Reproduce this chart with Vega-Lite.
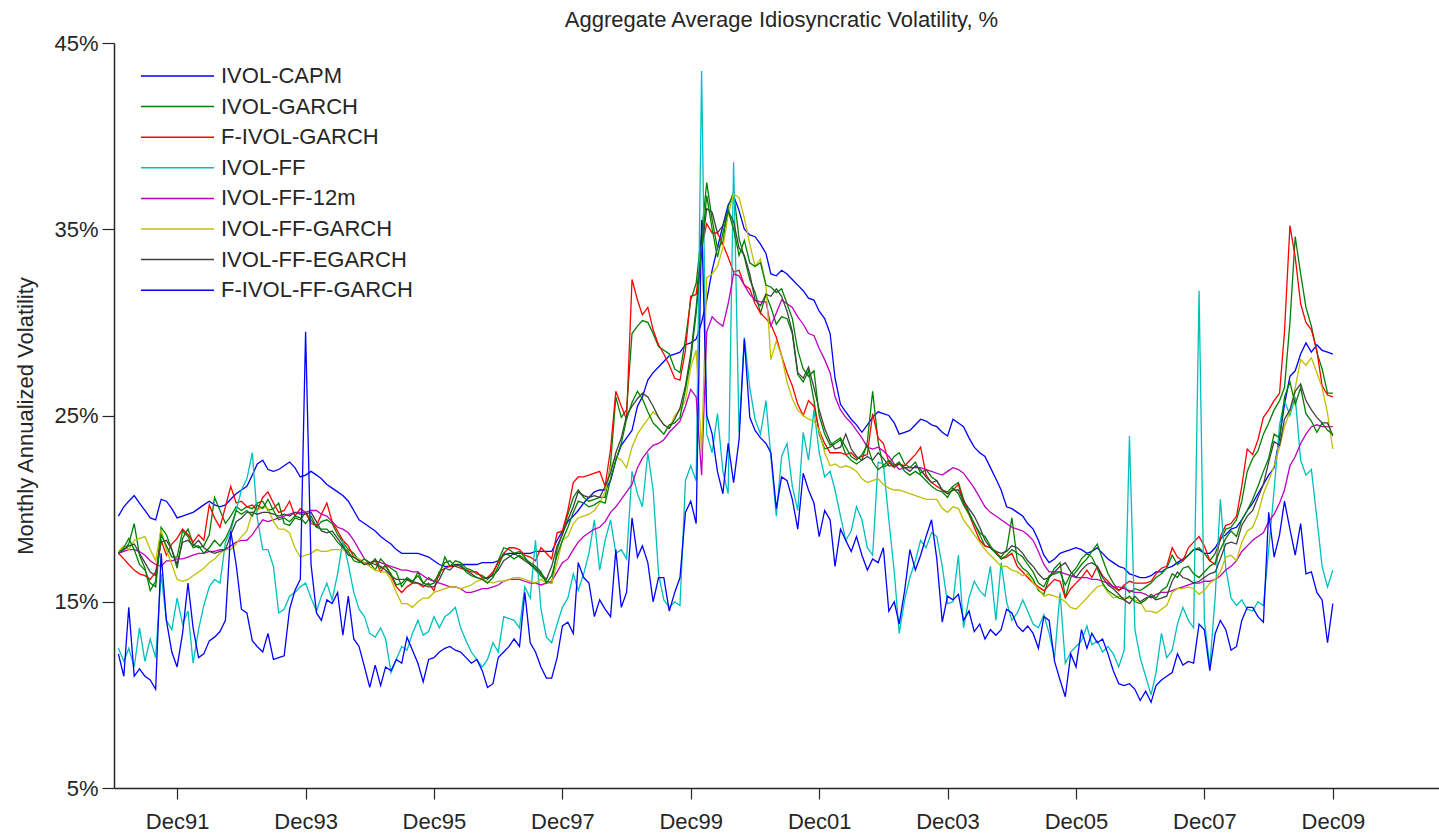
{
"$schema": "https://vega.github.io/schema/vega-lite/v6.json",
"width": 1325, "height": 745,
"autosize": {"type": "none"},
"padding": {"left": 114, "top": 43, "right": 0, "bottom": 48},
"background": "white",
"config": {"view": {"stroke": null}, "font": "Liberation Sans"},
"title": {"text": "Aggregate Average Idiosyncratic Volatility, %", "fontSize": 22, "fontWeight": "normal", "color": "#262626", "offset": 0, "anchor": "middle", "dx": 5},
"datasets": {"names": [
{"k":"a","s":"IVOL-CAPM"},{"k":"b","s":"IVOL-GARCH"},{"k":"c","s":"F-IVOL-GARCH"},{"k":"d","s":"IVOL-FF"},{"k":"e","s":"IVOL-FF-12m"},{"k":"f","s":"IVOL-FF-GARCH"},{"k":"g","s":"IVOL-FF-EGARCH"},{"k":"h","s":"F-IVOL-FF-GARCH"},{"k":"i","s":"Series 9"}]},
"data": {"values": [
{"t":"1991-01","a":19.6,"b":17.6,"c":17.6,"d":12.5,"e":17.6,"f":17.7,"g":17.6,"h":12.2,"i":17.6},
{"t":"1991-02","a":20.1,"b":17.8,"c":17.3,"d":11.8,"e":17.7,"f":18.0,"g":17.8,"h":11.0,"i":17.9},
{"t":"1991-03","a":20.4,"b":18.1,"c":17.0,"d":12.5,"e":17.8,"f":17.8,"g":18.0,"h":14.7,"i":18.4},
{"t":"1991-04","a":20.7,"b":19.2,"c":16.7,"d":11.5,"e":17.8,"f":18.3,"g":18.1,"h":11.0,"i":17.8},
{"t":"1991-05","a":20.3,"b":17.5,"c":16.5,"d":13.6,"e":17.7,"f":18.4,"g":17.6,"h":11.4,"i":17.0},
{"t":"1991-06","a":19.9,"b":16.8,"c":16.4,"d":11.8,"e":17.5,"f":18.5,"g":17.1,"h":11.0,"i":16.7},
{"t":"1991-07","a":19.5,"b":15.6,"c":16.2,"d":13.0,"e":17.2,"f":17.8,"g":16.6,"h":10.8,"i":16.0},
{"t":"1991-08","a":19.4,"b":16.1,"c":16.6,"d":12.0,"e":17.0,"f":17.2,"g":16.4,"h":10.3,"i":15.8},
{"t":"1991-09","a":20.5,"b":19.0,"c":18.3,"d":16.5,"e":16.9,"f":18.9,"g":18.2,"h":17.6,"i":18.6},
{"t":"1991-10","a":20.4,"b":18.6,"c":17.5,"d":14.0,"e":17.2,"f":17.8,"g":18.3,"h":14.0,"i":18.0},
{"t":"1991-11","a":20.0,"b":17.8,"c":18.1,"d":13.5,"e":17.2,"f":17.0,"g":17.8,"h":12.3,"i":17.4},
{"t":"1991-12","a":19.5,"b":16.8,"c":18.4,"d":15.2,"e":17.3,"f":16.2,"g":17.0,"h":11.5,"i":17.4},
{"t":"1992-01","a":19.6,"b":18.4,"c":18.9,"d":13.8,"e":17.3,"f":16.1,"g":18.2,"h":13.3,"i":18.8},
{"t":"1992-02","a":19.7,"b":18.9,"c":18.6,"d":14.5,"e":17.4,"f":16.2,"g":18.3,"h":16.0,"i":18.5},
{"t":"1992-03","a":19.8,"b":18.1,"c":18.2,"d":11.7,"e":17.5,"f":16.4,"g":18.0,"h":13.6,"i":17.9},
{"t":"1992-04","a":20.0,"b":17.9,"c":18.6,"d":13.5,"e":17.6,"f":16.6,"g":18.3,"h":12.0,"i":18.0},
{"t":"1992-05","a":20.2,"b":18.0,"c":18.3,"d":14.8,"e":17.6,"f":16.8,"g":17.9,"h":12.2,"i":17.6},
{"t":"1992-06","a":20.4,"b":18.6,"c":20.2,"d":15.8,"e":17.7,"f":17.1,"g":17.7,"h":12.9,"i":17.9},
{"t":"1992-07","a":20.2,"b":20.6,"c":19.5,"d":16.2,"e":17.7,"f":17.3,"g":17.6,"h":13.1,"i":18.3},
{"t":"1992-08","a":20.1,"b":19.9,"c":19.0,"d":16.0,"e":17.8,"f":17.6,"g":17.7,"h":13.4,"i":18.0},
{"t":"1992-09","a":20.2,"b":19.2,"c":20.1,"d":18.2,"e":17.8,"f":17.8,"g":17.8,"h":14.0,"i":18.4},
{"t":"1992-10","a":20.5,"b":19.6,"c":21.2,"d":18.8,"e":18.0,"f":17.8,"g":18.6,"h":18.8,"i":19.0},
{"t":"1992-11","a":20.8,"b":20.1,"c":20.3,"d":19.9,"e":18.2,"f":18.1,"g":19.3,"h":17.0,"i":19.9},
{"t":"1992-12","a":21.0,"b":19.9,"c":20.4,"d":21.0,"e":18.3,"f":18.5,"g":19.5,"h":14.6,"i":19.7},
{"t":"1993-01","a":21.2,"b":20.1,"c":20.1,"d":21.6,"e":18.3,"f":18.8,"g":19.8,"h":14.4,"i":19.9},
{"t":"1993-02","a":21.8,"b":20.0,"c":20.2,"d":23.0,"e":18.6,"f":19.8,"g":19.8,"h":12.9,"i":19.6},
{"t":"1993-03","a":22.4,"b":20.3,"c":19.9,"d":19.5,"e":19.0,"f":19.9,"g":19.7,"h":12.6,"i":20.2},
{"t":"1993-04","a":22.6,"b":20.4,"c":20.6,"d":17.8,"e":19.4,"f":20.1,"g":19.8,"h":12.3,"i":20.0},
{"t":"1993-05","a":22.1,"b":19.9,"c":20.9,"d":17.8,"e":19.3,"f":20.0,"g":19.8,"h":13.3,"i":20.5},
{"t":"1993-06","a":22.0,"b":20.0,"c":20.3,"d":16.9,"e":19.4,"f":19.3,"g":19.7,"h":11.9,"i":19.9},
{"t":"1993-07","a":22.1,"b":20.3,"c":19.8,"d":14.4,"e":19.5,"f":18.9,"g":19.6,"h":12.0,"i":19.4},
{"t":"1993-08","a":22.3,"b":19.2,"c":19.9,"d":14.6,"e":19.6,"f":18.9,"g":19.7,"h":12.1,"i":19.5},
{"t":"1993-09","a":22.5,"b":19.1,"c":20.4,"d":15.3,"e":19.7,"f":18.7,"g":19.6,"h":14.6,"i":19.3},
{"t":"1993-10","a":22.2,"b":19.5,"c":19.6,"d":15.5,"e":19.8,"f":17.9,"g":19.8,"h":15.6,"i":19.6},
{"t":"1993-11","a":21.7,"b":19.4,"c":20.0,"d":15.8,"e":19.8,"f":17.4,"g":19.7,"h":16.2,"i":19.5},
{"t":"1993-12","a":21.8,"b":19.8,"c":19.8,"d":16.0,"e":19.8,"f":17.5,"g":19.7,"h":29.5,"i":19.2},
{"t":"1994-01","a":22.0,"b":19.4,"c":19.2,"d":15.2,"e":19.9,"f":17.6,"g":19.8,"h":17.0,"i":19.6},
{"t":"1994-02","a":21.8,"b":19.0,"c":19.1,"d":14.5,"e":19.9,"f":17.8,"g":19.3,"h":14.4,"i":19.0},
{"t":"1994-03","a":21.6,"b":19.3,"c":19.7,"d":15.3,"e":19.7,"f":17.7,"g":18.8,"h":14.0,"i":18.9},
{"t":"1994-04","a":21.3,"b":19.4,"c":20.3,"d":16.0,"e":19.6,"f":17.7,"g":18.7,"h":15.1,"i":18.9},
{"t":"1994-05","a":21.1,"b":19.2,"c":19.3,"d":15.1,"e":19.3,"f":17.8,"g":18.8,"h":14.9,"i":18.6},
{"t":"1994-06","a":20.9,"b":18.6,"c":18.8,"d":16.5,"e":19.0,"f":17.8,"g":18.4,"h":15.5,"i":18.2},
{"t":"1994-07","a":20.7,"b":18.2,"c":18.3,"d":18.3,"e":18.9,"f":17.8,"g":18.0,"h":13.2,"i":17.9},
{"t":"1994-08","a":20.4,"b":17.8,"c":18.0,"d":17.0,"e":18.7,"f":17.6,"g":17.5,"h":15.3,"i":17.7},
{"t":"1994-09","a":19.9,"b":17.6,"c":17.4,"d":15.5,"e":18.3,"f":17.4,"g":17.4,"h":13.0,"i":17.2},
{"t":"1994-10","a":19.4,"b":17.2,"c":17.2,"d":14.6,"e":17.8,"f":17.3,"g":17.2,"h":12.6,"i":17.1},
{"t":"1994-11","a":19.2,"b":17.0,"c":17.1,"d":14.2,"e":17.3,"f":17.1,"g":17.0,"h":11.5,"i":17.3},
{"t":"1994-12","a":19.0,"b":17.1,"c":17.0,"d":13.3,"e":17.1,"f":16.9,"g":17.1,"h":10.4,"i":17.0},
{"t":"1995-01","a":18.8,"b":16.7,"c":17.2,"d":13.1,"e":17.2,"f":16.7,"g":17.0,"h":11.6,"i":17.3},
{"t":"1995-02","a":18.5,"b":17.3,"c":16.6,"d":13.6,"e":17.1,"f":16.6,"g":16.9,"h":10.5,"i":16.8},
{"t":"1995-03","a":18.3,"b":17.0,"c":17.0,"d":13.0,"e":17.0,"f":16.6,"g":16.7,"h":11.5,"i":16.9},
{"t":"1995-04","a":18.1,"b":16.8,"c":16.4,"d":11.2,"e":16.9,"f":16.2,"g":16.4,"h":11.3,"i":16.5},
{"t":"1995-05","a":17.8,"b":16.6,"c":15.8,"d":11.9,"e":16.8,"f":15.5,"g":16.2,"h":11.9,"i":15.9},
{"t":"1995-06","a":17.6,"b":15.8,"c":15.5,"d":12.6,"e":16.7,"f":14.9,"g":16.2,"h":11.7,"i":16.0},
{"t":"1995-07","a":17.6,"b":16.2,"c":15.8,"d":12.4,"e":16.7,"f":14.9,"g":16.2,"h":13.1,"i":16.3},
{"t":"1995-08","a":17.6,"b":16.0,"c":16.0,"d":13.3,"e":16.6,"f":14.7,"g":16.1,"h":12.4,"i":16.1},
{"t":"1995-09","a":17.6,"b":16.6,"c":16.0,"d":14.0,"e":16.6,"f":15.0,"g":16.0,"h":11.7,"i":16.4},
{"t":"1995-10","a":17.5,"b":16.0,"c":15.8,"d":13.2,"e":16.4,"f":15.2,"g":15.9,"h":10.7,"i":16.0},
{"t":"1995-11","a":17.4,"b":16.3,"c":16.0,"d":13.4,"e":16.2,"f":15.2,"g":15.8,"h":11.9,"i":15.9},
{"t":"1995-12","a":17.2,"b":16.1,"c":15.6,"d":14.2,"e":16.1,"f":15.5,"g":15.8,"h":12.0,"i":16.0},
{"t":"1996-01","a":17.0,"b":16.4,"c":16.6,"d":13.6,"e":16.0,"f":15.6,"g":16.2,"h":12.3,"i":16.6},
{"t":"1996-02","a":16.9,"b":17.4,"c":16.8,"d":14.2,"e":15.9,"f":15.7,"g":16.8,"h":12.5,"i":17.1},
{"t":"1996-03","a":16.9,"b":16.9,"c":16.9,"d":14.4,"e":15.8,"f":15.8,"g":16.7,"h":12.6,"i":17.2},
{"t":"1996-04","a":17.0,"b":17.2,"c":16.9,"d":14.7,"e":15.8,"f":15.8,"g":17.0,"h":12.4,"i":16.9},
{"t":"1996-05","a":17.0,"b":17.1,"c":16.8,"d":13.6,"e":15.7,"f":15.7,"g":16.9,"h":12.3,"i":17.0},
{"t":"1996-06","a":17.0,"b":16.8,"c":16.7,"d":12.9,"e":15.5,"f":15.8,"g":16.7,"h":12.0,"i":16.6},
{"t":"1996-07","a":17.0,"b":16.7,"c":16.6,"d":12.3,"e":15.5,"f":15.9,"g":16.5,"h":11.7,"i":16.4},
{"t":"1996-08","a":17.0,"b":16.5,"c":16.6,"d":11.9,"e":15.6,"f":16.1,"g":16.3,"h":11.9,"i":16.3},
{"t":"1996-09","a":17.1,"b":16.4,"c":16.3,"d":11.5,"e":15.7,"f":16.2,"g":16.2,"h":11.3,"i":16.2},
{"t":"1996-10","a":17.1,"b":16.2,"c":16.3,"d":11.9,"e":15.7,"f":16.1,"g":16.3,"h":10.4,"i":16.0},
{"t":"1996-11","a":17.1,"b":16.5,"c":16.6,"d":12.8,"e":15.8,"f":16.0,"g":16.4,"h":10.6,"i":16.3},
{"t":"1996-12","a":17.2,"b":17.2,"c":17.1,"d":12.3,"e":15.9,"f":16.1,"g":16.7,"h":12.0,"i":16.9},
{"t":"1997-01","a":17.5,"b":17.9,"c":17.6,"d":14.2,"e":16.1,"f":16.1,"g":17.2,"h":12.3,"i":17.6},
{"t":"1997-02","a":17.6,"b":17.8,"c":17.9,"d":14.1,"e":16.2,"f":16.2,"g":17.4,"h":12.6,"i":17.5},
{"t":"1997-03","a":17.6,"b":17.6,"c":17.9,"d":14.0,"e":16.2,"f":16.3,"g":17.6,"h":13.0,"i":17.3},
{"t":"1997-04","a":17.6,"b":17.7,"c":17.8,"d":13.6,"e":16.2,"f":16.3,"g":17.4,"h":12.6,"i":17.5},
{"t":"1997-05","a":17.6,"b":17.4,"c":17.5,"d":15.8,"e":16.1,"f":16.2,"g":17.2,"h":15.5,"i":17.3},
{"t":"1997-06","a":17.6,"b":17.0,"c":17.4,"d":15.2,"e":16.0,"f":16.1,"g":17.0,"h":12.8,"i":17.1},
{"t":"1997-07","a":17.7,"b":16.7,"c":17.2,"d":18.3,"e":16.0,"f":16.0,"g":16.8,"h":12.3,"i":16.9},
{"t":"1997-08","a":17.7,"b":16.4,"c":17.9,"d":14.6,"e":15.9,"f":16.2,"g":16.5,"h":11.5,"i":16.6},
{"t":"1997-09","a":17.7,"b":16.1,"c":17.6,"d":13.1,"e":16.0,"f":16.0,"g":16.2,"h":10.9,"i":16.0},
{"t":"1997-10","a":17.7,"b":16.0,"c":17.3,"d":12.8,"e":16.1,"f":16.0,"g":16.9,"h":10.9,"i":16.4},
{"t":"1997-11","a":18.3,"b":17.8,"c":18.7,"d":13.8,"e":16.6,"f":17.1,"g":18.0,"h":12.0,"i":17.5},
{"t":"1997-12","a":18.8,"b":18.7,"c":18.8,"d":14.7,"e":17.1,"f":18.3,"g":18.6,"h":13.7,"i":18.3},
{"t":"1998-01","a":19.3,"b":19.7,"c":19.9,"d":15.2,"e":17.3,"f":18.5,"g":19.4,"h":13.9,"i":19.0},
{"t":"1998-02","a":19.6,"b":20.6,"c":21.4,"d":16.5,"e":17.8,"f":19.2,"g":20.1,"h":13.3,"i":19.8},
{"t":"1998-03","a":19.9,"b":21.0,"c":21.7,"d":15.6,"e":18.2,"f":19.5,"g":20.9,"h":17.1,"i":20.4},
{"t":"1998-04","a":20.3,"b":20.6,"c":21.7,"d":16.5,"e":18.5,"f":19.6,"g":20.7,"h":16.3,"i":20.3},
{"t":"1998-05","a":20.6,"b":20.4,"c":21.8,"d":17.6,"e":18.7,"f":19.7,"g":20.6,"h":16.0,"i":20.1},
{"t":"1998-06","a":20.9,"b":20.5,"c":21.9,"d":19.4,"e":18.9,"f":19.9,"g":20.7,"h":14.2,"i":20.2},
{"t":"1998-07","a":21.0,"b":20.6,"c":22.0,"d":16.7,"e":19.0,"f":20.3,"g":20.6,"h":15.1,"i":20.4},
{"t":"1998-08","a":21.0,"b":20.6,"c":21.2,"d":18.3,"e":19.3,"f":20.9,"g":21.2,"h":14.6,"i":20.3},
{"t":"1998-09","a":21.5,"b":22.4,"c":23.2,"d":19.4,"e":19.8,"f":22.2,"g":21.9,"h":14.2,"i":21.6},
{"t":"1998-10","a":22.6,"b":26.0,"c":26.3,"d":17.6,"e":20.1,"f":22.8,"g":23.0,"h":17.8,"i":22.6},
{"t":"1998-11","a":23.4,"b":24.9,"c":25.5,"d":17.8,"e":20.5,"f":22.6,"g":23.8,"h":14.7,"i":23.5},
{"t":"1998-12","a":23.8,"b":25.3,"c":24.8,"d":17.3,"e":20.9,"f":22.2,"g":25.0,"h":15.5,"i":24.8},
{"t":"1999-01","a":24.2,"b":29.4,"c":32.3,"d":22.0,"e":21.3,"f":23.3,"g":25.5,"h":19.5,"i":25.7},
{"t":"1999-02","a":25.5,"b":29.8,"c":31.2,"d":20.8,"e":22.2,"f":24.0,"g":25.9,"h":17.4,"i":26.3},
{"t":"1999-03","a":26.0,"b":30.1,"c":30.4,"d":20.1,"e":22.7,"f":24.4,"g":26.2,"h":18.0,"i":25.9},
{"t":"1999-04","a":26.9,"b":30.0,"c":30.8,"d":23.0,"e":23.1,"f":24.8,"g":26.0,"h":17.1,"i":25.2},
{"t":"1999-05","a":27.3,"b":29.4,"c":29.6,"d":21.0,"e":23.4,"f":25.2,"g":25.5,"h":15.0,"i":24.6},
{"t":"1999-06","a":27.6,"b":28.7,"c":28.8,"d":16.5,"e":23.5,"f":24.9,"g":24.9,"h":16.3,"i":24.3},
{"t":"1999-07","a":27.9,"b":28.5,"c":28.3,"d":15.1,"e":23.7,"f":24.5,"g":24.5,"h":16.3,"i":24.0},
{"t":"1999-08","a":28.2,"b":28.3,"c":27.7,"d":14.7,"e":24.1,"f":24.3,"g":24.3,"h":14.5,"i":24.5},
{"t":"1999-09","a":28.3,"b":27.5,"c":27.0,"d":15.0,"e":24.4,"f":25.0,"g":24.8,"h":15.5,"i":24.6},
{"t":"1999-10","a":28.4,"b":27.3,"c":26.9,"d":14.8,"e":24.7,"f":25.3,"g":25.4,"h":16.3,"i":24.9},
{"t":"1999-11","a":28.8,"b":29.1,"c":28.5,"d":21.5,"e":25.5,"f":25.8,"g":26.6,"h":19.8,"i":26.4},
{"t":"1999-12","a":28.9,"b":31.2,"c":31.4,"d":22.3,"e":26.4,"f":27.6,"g":28.3,"h":20.4,"i":28.0},
{"t":"2000-01","a":29.1,"b":32.1,"c":31.5,"d":21.5,"e":26.0,"f":28.5,"g":30.8,"h":19.2,"i":30.5},
{"t":"2000-02","a":30.0,"b":34.8,"c":34.0,"d":43.5,"e":21.8,"f":23.0,"g":33.9,"h":35.5,"i":34.0},
{"t":"2000-03","a":31.2,"b":37.5,"c":35.3,"d":24.0,"e":29.5,"f":32.4,"g":36.1,"h":25.0,"i":36.8},
{"t":"2000-04","a":32.8,"b":35.5,"c":34.8,"d":23.0,"e":30.3,"f":32.6,"g":35.9,"h":24.0,"i":35.0},
{"t":"2000-05","a":34.0,"b":34.0,"c":34.8,"d":25.1,"e":30.0,"f":33.0,"g":34.8,"h":22.0,"i":33.5},
{"t":"2000-06","a":35.2,"b":34.3,"c":34.2,"d":22.0,"e":29.8,"f":34.0,"g":35.2,"h":20.8,"i":34.8},
{"t":"2000-07","a":36.3,"b":36.2,"c":33.5,"d":20.8,"e":31.0,"f":35.8,"g":36.0,"h":23.5,"i":36.0},
{"t":"2000-08","a":36.8,"b":37.0,"c":32.7,"d":38.6,"e":32.6,"f":36.9,"g":35.4,"h":21.4,"i":35.0},
{"t":"2000-09","a":36.0,"b":34.5,"c":32.8,"d":24.1,"e":32.5,"f":36.7,"g":34.0,"h":23.7,"i":33.6},
{"t":"2000-10","a":35.0,"b":33.5,"c":32.0,"d":29.2,"e":32.0,"f":35.6,"g":33.6,"h":29.1,"i":34.4},
{"t":"2000-11","a":34.7,"b":32.3,"c":31.8,"d":26.5,"e":31.5,"f":34.2,"g":32.6,"h":24.9,"i":33.2},
{"t":"2000-12","a":34.6,"b":31.6,"c":31.0,"d":24.8,"e":31.2,"f":33.0,"g":31.2,"h":24.2,"i":33.0},
{"t":"2001-01","a":34.2,"b":30.5,"c":30.5,"d":24.0,"e":31.1,"f":33.4,"g":30.9,"h":23.8,"i":33.2},
{"t":"2001-02","a":33.7,"b":31.5,"c":30.2,"d":25.8,"e":31.1,"f":32.0,"g":31.5,"h":23.5,"i":32.0},
{"t":"2001-03","a":32.6,"b":30.8,"c":29.9,"d":22.8,"e":29.8,"f":28.0,"g":31.4,"h":23.0,"i":31.9},
{"t":"2001-04","a":32.5,"b":29.9,"c":29.2,"d":19.6,"e":30.5,"f":29.0,"g":31.8,"h":20.0,"i":31.6},
{"t":"2001-05","a":32.8,"b":30.3,"c":28.2,"d":22.8,"e":31.2,"f":28.2,"g":31.4,"h":21.7,"i":31.8},
{"t":"2001-06","a":32.6,"b":30.2,"c":27.3,"d":23.5,"e":31.0,"f":26.8,"g":30.6,"h":21.5,"i":31.0},
{"t":"2001-07","a":32.3,"b":29.4,"c":26.6,"d":21.2,"e":30.8,"f":25.9,"g":29.5,"h":20.5,"i":30.2},
{"t":"2001-08","a":32.0,"b":27.2,"c":25.6,"d":19.9,"e":30.3,"f":25.3,"g":27.3,"h":18.9,"i":28.5},
{"t":"2001-09","a":31.7,"b":26.8,"c":25.0,"d":24.1,"e":29.9,"f":25.0,"g":27.0,"h":21.9,"i":27.5},
{"t":"2001-10","a":31.3,"b":27.4,"c":25.8,"d":22.6,"e":29.4,"f":24.8,"g":27.6,"h":21.0,"i":27.1},
{"t":"2001-11","a":31.2,"b":25.8,"c":25.5,"d":25.3,"e":29.3,"f":24.7,"g":26.5,"h":20.3,"i":27.4},
{"t":"2001-12","a":30.6,"b":24.0,"c":24.2,"d":23.0,"e":28.6,"f":24.2,"g":25.3,"h":18.5,"i":25.0},
{"t":"2002-01","a":30.2,"b":23.2,"c":23.5,"d":21.7,"e":28.0,"f":23.0,"g":24.3,"h":19.9,"i":24.0},
{"t":"2002-02","a":29.4,"b":23.3,"c":23.0,"d":22.0,"e":27.3,"f":22.3,"g":23.6,"h":19.4,"i":23.4},
{"t":"2002-03","a":27.0,"b":23.5,"c":23.0,"d":21.0,"e":26.0,"f":22.4,"g":23.2,"h":16.9,"i":23.6},
{"t":"2002-04","a":25.6,"b":23.7,"c":23.0,"d":19.6,"e":25.3,"f":22.2,"g":23.3,"h":18.9,"i":23.8},
{"t":"2002-05","a":25.2,"b":22.9,"c":22.9,"d":18.3,"e":24.9,"f":22.3,"g":24.0,"h":18.3,"i":23.3},
{"t":"2002-06","a":24.8,"b":22.6,"c":23.0,"d":18.8,"e":24.6,"f":22.2,"g":23.2,"h":17.7,"i":22.8},
{"t":"2002-07","a":24.5,"b":22.4,"c":22.7,"d":20.1,"e":24.2,"f":22.0,"g":22.8,"h":18.5,"i":22.6},
{"t":"2002-08","a":24.1,"b":22.6,"c":22.8,"d":19.4,"e":23.8,"f":21.6,"g":22.6,"h":17.5,"i":22.9},
{"t":"2002-09","a":24.5,"b":23.6,"c":22.9,"d":17.9,"e":23.3,"f":21.4,"g":22.8,"h":16.7,"i":23.4},
{"t":"2002-10","a":24.9,"b":26.3,"c":25.1,"d":17.5,"e":23.2,"f":21.5,"g":22.6,"h":17.3,"i":22.5},
{"t":"2002-11","a":25.2,"b":23.6,"c":23.8,"d":22.5,"e":23.3,"f":21.6,"g":23.0,"h":17.1,"i":22.1},
{"t":"2002-12","a":25.1,"b":22.2,"c":23.5,"d":22.4,"e":23.1,"f":21.3,"g":22.7,"h":17.9,"i":22.3},
{"t":"2003-01","a":25.0,"b":22.4,"c":22.5,"d":19.4,"e":22.8,"f":21.1,"g":22.3,"h":14.5,"i":22.6},
{"t":"2003-02","a":24.6,"b":22.8,"c":22.2,"d":16.6,"e":22.4,"f":21.0,"g":22.3,"h":15.0,"i":22.3},
{"t":"2003-03","a":24.0,"b":23.0,"c":22.4,"d":13.3,"e":22.1,"f":21.0,"g":22.4,"h":13.8,"i":22.5},
{"t":"2003-04","a":24.1,"b":22.4,"c":22.3,"d":15.1,"e":22.2,"f":20.9,"g":22.2,"h":15.6,"i":22.0},
{"t":"2003-05","a":24.2,"b":22.2,"c":22.6,"d":16.3,"e":22.2,"f":20.8,"g":22.0,"h":17.8,"i":21.8},
{"t":"2003-06","a":24.5,"b":22.5,"c":22.9,"d":17.2,"e":22.2,"f":20.7,"g":22.3,"h":16.7,"i":22.0},
{"t":"2003-07","a":24.8,"b":21.9,"c":23.3,"d":18.3,"e":22.2,"f":20.6,"g":22.1,"h":17.5,"i":21.8},
{"t":"2003-08","a":24.7,"b":22.1,"c":21.8,"d":17.9,"e":22.1,"f":20.5,"g":21.7,"h":18.5,"i":21.5},
{"t":"2003-09","a":24.5,"b":21.7,"c":21.4,"d":18.7,"e":22.0,"f":20.5,"g":21.4,"h":19.4,"i":21.2},
{"t":"2003-10","a":24.4,"b":21.5,"c":21.2,"d":18.5,"e":21.9,"f":20.5,"g":21.5,"h":17.3,"i":21.0},
{"t":"2003-11","a":24.1,"b":21.0,"c":21.0,"d":16.9,"e":21.8,"f":20.0,"g":21.0,"h":13.9,"i":20.9},
{"t":"2003-12","a":23.9,"b":20.9,"c":20.8,"d":14.9,"e":22.0,"f":19.8,"g":20.8,"h":15.3,"i":20.6},
{"t":"2004-01","a":24.8,"b":21.2,"c":21.0,"d":15.0,"e":22.2,"f":20.1,"g":21.0,"h":15.1,"i":21.1},
{"t":"2004-02","a":24.6,"b":21.4,"c":21.3,"d":17.5,"e":22.1,"f":20.0,"g":21.0,"h":15.4,"i":20.8},
{"t":"2004-03","a":24.4,"b":20.5,"c":20.3,"d":13.6,"e":21.9,"f":19.4,"g":20.4,"h":14.0,"i":20.2},
{"t":"2004-04","a":23.8,"b":19.8,"c":19.7,"d":15.2,"e":21.5,"f":19.0,"g":20.0,"h":14.5,"i":19.7},
{"t":"2004-05","a":23.3,"b":19.2,"c":19.0,"d":16.1,"e":21.1,"f":18.6,"g":19.6,"h":13.4,"i":19.2},
{"t":"2004-06","a":23.0,"b":18.6,"c":18.3,"d":15.6,"e":20.6,"f":18.2,"g":19.0,"h":13.8,"i":18.7},
{"t":"2004-07","a":22.8,"b":18.0,"c":18.0,"d":15.3,"e":20.1,"f":17.8,"g":18.3,"h":13.0,"i":18.5},
{"t":"2004-08","a":22.2,"b":17.9,"c":17.9,"d":16.9,"e":19.8,"f":17.5,"g":17.9,"h":13.5,"i":18.0},
{"t":"2004-09","a":21.6,"b":17.6,"c":17.7,"d":14.0,"e":19.6,"f":17.2,"g":17.7,"h":13.2,"i":17.6},
{"t":"2004-10","a":21.0,"b":17.4,"c":17.3,"d":17.1,"e":19.4,"f":16.9,"g":17.6,"h":13.5,"i":17.3},
{"t":"2004-11","a":20.1,"b":17.8,"c":17.4,"d":15.0,"e":19.2,"f":16.9,"g":17.7,"h":14.6,"i":17.5},
{"t":"2004-12","a":20.0,"b":19.5,"c":17.6,"d":14.0,"e":19.0,"f":16.7,"g":18.0,"h":14.4,"i":17.8},
{"t":"2005-01","a":19.8,"b":17.2,"c":16.9,"d":14.4,"e":18.9,"f":16.6,"g":17.9,"h":13.7,"i":17.6},
{"t":"2005-02","a":19.6,"b":16.8,"c":16.6,"d":15.1,"e":18.8,"f":16.4,"g":17.6,"h":13.4,"i":17.4},
{"t":"2005-03","a":19.2,"b":16.6,"c":16.3,"d":14.5,"e":18.6,"f":16.5,"g":17.2,"h":13.7,"i":17.0},
{"t":"2005-04","a":18.9,"b":16.2,"c":16.0,"d":13.8,"e":18.3,"f":16.0,"g":16.9,"h":13.3,"i":16.6},
{"t":"2005-05","a":18.3,"b":15.6,"c":15.8,"d":13.6,"e":17.7,"f":15.7,"g":16.5,"h":12.5,"i":16.0},
{"t":"2005-06","a":17.5,"b":15.4,"c":15.6,"d":14.3,"e":17.0,"f":15.3,"g":16.2,"h":14.2,"i":15.8},
{"t":"2005-07","a":17.1,"b":16.3,"c":15.9,"d":13.3,"e":16.6,"f":15.4,"g":16.3,"h":14.0,"i":16.4},
{"t":"2005-08","a":17.3,"b":16.8,"c":16.2,"d":12.0,"e":16.6,"f":15.3,"g":16.6,"h":11.8,"i":16.5},
{"t":"2005-09","a":17.6,"b":17.1,"c":16.1,"d":15.5,"e":16.6,"f":15.2,"g":16.9,"h":10.8,"i":16.6},
{"t":"2005-10","a":17.7,"b":15.2,"c":15.2,"d":11.7,"e":16.5,"f":15.0,"g":17.1,"h":9.9,"i":15.9},
{"t":"2005-11","a":17.8,"b":16.3,"c":15.7,"d":12.3,"e":16.4,"f":14.7,"g":16.6,"h":12.2,"i":16.5},
{"t":"2005-12","a":17.9,"b":16.6,"c":16.0,"d":12.6,"e":16.3,"f":14.6,"g":16.3,"h":11.5,"i":16.8},
{"t":"2006-01","a":17.8,"b":17.0,"c":16.3,"d":12.9,"e":16.3,"f":14.9,"g":16.7,"h":13.5,"i":17.3},
{"t":"2006-02","a":17.6,"b":17.3,"c":16.7,"d":13.7,"e":16.3,"f":15.2,"g":17.0,"h":12.5,"i":17.6},
{"t":"2006-03","a":17.7,"b":17.7,"c":16.3,"d":12.7,"e":16.2,"f":15.5,"g":17.1,"h":13.3,"i":17.4},
{"t":"2006-04","a":17.9,"b":18.1,"c":16.9,"d":12.9,"e":16.2,"f":15.8,"g":16.9,"h":12.8,"i":16.8},
{"t":"2006-05","a":17.6,"b":17.3,"c":16.4,"d":12.3,"e":16.1,"f":15.9,"g":16.3,"h":13.0,"i":16.0},
{"t":"2006-06","a":17.3,"b":16.5,"c":16.1,"d":12.6,"e":16.0,"f":15.5,"g":15.9,"h":12.2,"i":15.6},
{"t":"2006-07","a":17.1,"b":16.0,"c":15.8,"d":12.2,"e":15.8,"f":15.2,"g":15.7,"h":11.3,"i":15.4},
{"t":"2006-08","a":16.9,"b":15.6,"c":15.6,"d":11.5,"e":15.8,"f":15.3,"g":15.4,"h":10.6,"i":15.2},
{"t":"2006-09","a":16.8,"b":15.8,"c":15.9,"d":12.4,"e":15.7,"f":15.2,"g":15.1,"h":10.5,"i":15.1},
{"t":"2006-10","a":16.5,"b":15.5,"c":16.1,"d":23.9,"e":15.6,"f":15.2,"g":14.9,"h":10.6,"i":15.3},
{"t":"2006-11","a":16.4,"b":15.7,"c":16.0,"d":13.5,"e":15.5,"f":15.1,"g":15.3,"h":10.3,"i":15.0},
{"t":"2006-12","a":16.3,"b":15.6,"c":16.0,"d":12.0,"e":15.5,"f":15.0,"g":15.0,"h":9.7,"i":14.9},
{"t":"2007-01","a":16.3,"b":15.8,"c":16.0,"d":11.0,"e":15.4,"f":14.5,"g":15.2,"h":10.2,"i":15.1},
{"t":"2007-02","a":16.4,"b":16.0,"c":16.1,"d":10.0,"e":15.2,"f":14.5,"g":15.3,"h":9.6,"i":15.4},
{"t":"2007-03","a":16.6,"b":16.3,"c":16.5,"d":11.2,"e":15.4,"f":14.4,"g":15.1,"h":10.5,"i":15.2},
{"t":"2007-04","a":16.6,"b":16.5,"c":16.8,"d":13.3,"e":15.5,"f":14.6,"g":15.2,"h":10.8,"i":15.6},
{"t":"2007-05","a":16.8,"b":16.8,"c":16.9,"d":12.0,"e":15.5,"f":14.8,"g":15.3,"h":11.0,"i":15.8},
{"t":"2007-06","a":16.9,"b":17.5,"c":17.9,"d":12.4,"e":15.6,"f":15.5,"g":16.1,"h":11.2,"i":16.5},
{"t":"2007-07","a":17.1,"b":17.0,"c":17.4,"d":13.8,"e":15.7,"f":15.7,"g":16.6,"h":12.2,"i":16.3},
{"t":"2007-08","a":17.3,"b":17.2,"c":17.2,"d":14.7,"e":15.8,"f":15.7,"g":16.3,"h":11.6,"i":16.8},
{"t":"2007-09","a":17.5,"b":17.5,"c":17.9,"d":14.0,"e":15.9,"f":15.8,"g":16.2,"h":11.8,"i":16.9},
{"t":"2007-10","a":17.8,"b":17.8,"c":18.2,"d":13.6,"e":16.0,"f":15.7,"g":16.0,"h":11.7,"i":16.5},
{"t":"2007-11","a":17.8,"b":17.9,"c":18.5,"d":31.7,"e":16.0,"f":15.4,"g":16.1,"h":13.8,"i":16.3},
{"t":"2007-12","a":17.6,"b":17.6,"c":18.0,"d":14.0,"e":16.1,"f":15.6,"g":16.3,"h":13.5,"i":16.6},
{"t":"2008-01","a":17.6,"b":17.2,"c":17.2,"d":11.5,"e":16.1,"f":16.0,"g":16.5,"h":11.3,"i":16.9},
{"t":"2008-02","a":17.9,"b":17.6,"c":17.0,"d":15.3,"e":16.2,"f":16.2,"g":16.6,"h":13.3,"i":17.1},
{"t":"2008-03","a":18.4,"b":18.3,"c":18.5,"d":20.5,"e":16.4,"f":16.6,"g":17.3,"h":14.0,"i":17.8},
{"t":"2008-04","a":18.6,"b":18.9,"c":19.1,"d":16.8,"e":16.7,"f":17.4,"g":18.1,"h":13.5,"i":18.4},
{"t":"2008-05","a":18.9,"b":19.0,"c":19.2,"d":15.2,"e":16.9,"f":17.5,"g":18.2,"h":12.4,"i":18.8},
{"t":"2008-06","a":19.0,"b":19.4,"c":19.6,"d":14.8,"e":17.2,"f":17.2,"g":18.1,"h":12.6,"i":18.5},
{"t":"2008-07","a":19.4,"b":20.4,"c":21.2,"d":15.1,"e":17.7,"f":18.2,"g":19.1,"h":14.0,"i":19.4},
{"t":"2008-08","a":19.9,"b":22.0,"c":23.2,"d":14.6,"e":18.0,"f":18.8,"g":19.6,"h":14.7,"i":19.9},
{"t":"2008-09","a":20.3,"b":22.7,"c":22.9,"d":14.5,"e":18.3,"f":19.0,"g":19.9,"h":14.7,"i":20.5},
{"t":"2008-10","a":20.8,"b":23.1,"c":23.7,"d":15.0,"e":18.5,"f":19.7,"g":20.6,"h":14.2,"i":21.2},
{"t":"2008-11","a":21.3,"b":24.0,"c":24.9,"d":14.8,"e":18.7,"f":20.8,"g":21.3,"h":13.9,"i":22.0},
{"t":"2008-12","a":21.8,"b":24.6,"c":25.3,"d":17.8,"e":19.3,"f":21.5,"g":22.5,"h":19.8,"i":22.7},
{"t":"2009-01","a":22.2,"b":25.3,"c":25.8,"d":21.0,"e":19.7,"f":22.3,"g":23.6,"h":17.4,"i":24.0},
{"t":"2009-02","a":23.8,"b":25.8,"c":26.2,"d":24.5,"e":20.3,"f":23.3,"g":23.4,"h":18.6,"i":23.8},
{"t":"2009-03","a":25.6,"b":26.5,"c":29.5,"d":25.8,"e":21.0,"f":24.4,"g":24.8,"h":20.4,"i":26.0},
{"t":"2009-04","a":27.1,"b":30.0,"c":35.2,"d":25.0,"e":22.3,"f":25.2,"g":25.3,"h":18.9,"i":26.8},
{"t":"2009-05","a":27.4,"b":34.6,"c":33.5,"d":26.0,"e":22.8,"f":26.5,"g":26.3,"h":17.5,"i":25.6},
{"t":"2009-06","a":28.3,"b":32.6,"c":31.0,"d":22.6,"e":23.5,"f":28.0,"g":26.7,"h":19.2,"i":26.5},
{"t":"2009-07","a":28.9,"b":30.8,"c":30.0,"d":21.8,"e":24.0,"f":27.7,"g":25.8,"h":16.5,"i":25.1},
{"t":"2009-08","a":28.4,"b":29.8,"c":29.6,"d":22.1,"e":24.4,"f":28.1,"g":25.3,"h":16.6,"i":24.7},
{"t":"2009-09","a":28.8,"b":28.4,"c":28.5,"d":19.5,"e":24.5,"f":27.3,"g":24.9,"h":15.5,"i":24.1},
{"t":"2009-10","a":28.5,"b":27.5,"c":26.6,"d":16.9,"e":24.4,"f":26.5,"g":24.6,"h":15.1,"i":24.6},
{"t":"2009-11","a":28.4,"b":26.2,"c":26.1,"d":15.8,"e":24.4,"f":25.1,"g":24.6,"h":12.8,"i":24.2},
{"t":"2009-12","a":28.3,"b":26.2,"c":26.0,"d":16.7,"e":24.4,"f":23.2,"g":23.9,"h":14.9,"i":24.0}
]},
"transform": [
{"fold": ["a","b","c","d","e","f","g","h","i"], "as": ["k","v"]},
{"lookup": "k", "from": {"data": {"name": "names"}, "key": "k", "fields": ["s"]}}
],
"mark": {"type": "line", "strokeWidth": 1.3, "clip": false},
"encoding": {
"x": {"field": "t", "type": "temporal",
 "scale": {"type": "utc", "domain": [{"year":1990,"month":12,"date":7,"utc":true},{"year":2011,"month":7,"date":28,"utc":true}]},
 "axis": {"title": null, "grid": false,
  "values": [{"year":1991,"month":12,"date":1,"utc":true},{"year":1993,"month":12,"date":1,"utc":true},{"year":1995,"month":12,"date":1,"utc":true},{"year":1997,"month":12,"date":1,"utc":true},{"year":1999,"month":12,"date":1,"utc":true},{"year":2001,"month":12,"date":1,"utc":true},{"year":2003,"month":12,"date":1,"utc":true},{"year":2005,"month":12,"date":1,"utc":true},{"year":2007,"month":12,"date":1,"utc":true},{"year":2009,"month":12,"date":1,"utc":true}],
  "labelExpr": "utcFormat(datum.value, '%b%y')",
  "tickSize": 11, "tickWidth": 1.2, "tickColor": "#262626", "domainColor": "#262626", "domainWidth": 1.5,
  "labelFontSize": 22, "labelColor": "#262626", "labelPadding": 12, "labelFlush": false, "labelOverlap": false}},
"y": {"field": "v", "type": "quantitative",
 "scale": {"domain": [5, 45], "nice": false, "zero": false},
 "axis": {"title": "Monthly Annualized Volatility", "grid": false, "values": [5,15,25,35,45],
  "labelExpr": "datum.value + '%'",
  "tickSize": 12, "tickWidth": 1.2, "tickColor": "#262626", "domainColor": "#262626", "domainWidth": 1.5,
  "labelFontSize": 22, "labelColor": "#262626", "labelPadding": 4,
  "titleFontSize": 22, "titleFontWeight": "normal", "titleColor": "#262626", "titlePadding": 16}},
"color": {"field": "s", "type": "nominal",
 "scale": {"domain": ["IVOL-CAPM","IVOL-GARCH","F-IVOL-GARCH","IVOL-FF","IVOL-FF-12m","IVOL-FF-GARCH","IVOL-FF-EGARCH","F-IVOL-FF-GARCH","Series 9"],
  "range": ["#0000ff","#008000","#ff0000","#00bfbf","#bf00bf","#bfbf00","#404040","#0000ff","#008000"]},
 "legend": {"values": ["IVOL-CAPM","IVOL-GARCH","F-IVOL-GARCH","IVOL-FF","IVOL-FF-12m","IVOL-FF-GARCH","IVOL-FF-EGARCH","F-IVOL-FF-GARCH"],
  "title": null, "orient": "none", "legendX": 26, "legendY": 21, "padding": 0,
  "symbolType": "stroke", "symbolSize": 5329, "symbolStrokeWidth": 1.5, "clipHeight": 24, "rowPadding": 6.6,
  "labelFontSize": 22, "labelColor": "#262626", "labelOffset": 6, "labelLimit": 0}}
}
}
